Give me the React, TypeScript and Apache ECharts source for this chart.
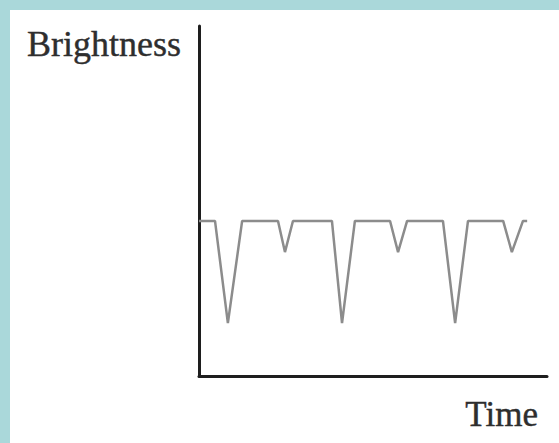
import React, { useEffect, useRef } from "react";
import * as echarts from "echarts";

// Time (arbitrary units) and brightness (arbitrary units)
const times = [0, 0.46, 0.83, 1.24, 2.27, 2.47, 2.7, 3.82, 4.11, 4.48, 5.49, 5.72, 5.98, 7.01, 7.36, 7.73, 8.74, 8.99, 9.31, 9.43];
const brightness = [4.43, 4.43, 1.51, 4.43, 4.43, 3.54, 4.43, 4.43, 1.51, 4.43, 4.43, 3.54, 4.43, 4.43, 1.51, 4.43, 4.43, 3.54, 4.43, 4.43];
const xLabel = "Time";
const yLabel = "Brightness";

export default function App() {
  const ref = useRef<HTMLDivElement>(null);
  useEffect(() => {
    const chart = echarts.init(ref.current!, null, { renderer: "svg" });
    const data = times.map((t, i) => [t, brightness[i]]);
    chart.setOption({
      animation: false,
      backgroundColor: "#aad8da",
      grid: { left: 199, right: 12, top: 26, bottom: 67 },
      graphic: [
        { type: "rect", z: -10, shape: { x: 10, y: 10, width: 549, height: 433 }, style: { fill: "#ffffff" } },
        {
          type: "text", x: 27, y: 62,
          style: { text: yLabel, font: "36px 'Liberation Serif', serif", fill: "#2e2e2e", verticalAlign: "bottom", stroke: "#2e2e2e", lineWidth: 0.4 },
        },
        {
          type: "text", x: 538, y: 432,
          style: { text: xLabel, font: "35px 'Liberation Serif', serif", fill: "#2e2e2e", align: "right", verticalAlign: "bottom", stroke: "#2e2e2e", lineWidth: 0.4 },
        },
      ],
      xAxis: {
        type: "value", min: 0, max: 10,
        axisLine: { show: true, lineStyle: { color: "#1e1e1e", width: 3 } },
        axisTick: { show: false }, axisLabel: { show: false }, splitLine: { show: false },
      },
      yAxis: {
        type: "value", min: 0, max: 10,
        axisLine: { show: true, lineStyle: { color: "#1e1e1e", width: 3 } },
        axisTick: { show: false }, axisLabel: { show: false }, splitLine: { show: false },
      },
      series: [
        {
          type: "line", data, symbol: "none",
          lineStyle: { color: "#8c8c8c", width: 2.5 },
        },
      ],
    });
    return () => chart.dispose();
  }, []);
  return <div ref={ref} style={{ position: "fixed", left: 0, top: 0, width: 559, height: 443 }} />;
}
